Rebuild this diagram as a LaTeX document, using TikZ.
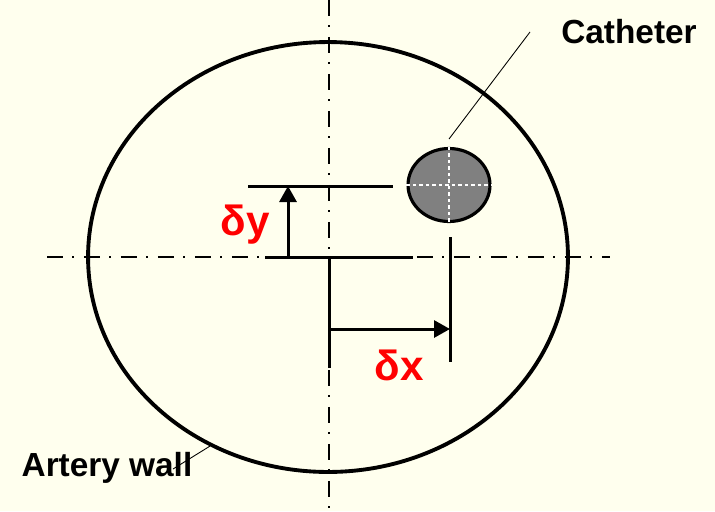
\documentclass[tikz,border=0pt]{standalone}
\usepackage{fontspec}
\setmainfont{Liberation Sans}
\usetikzlibrary{positioning, arrows.meta, shapes.geometric}
\definecolor{mCream}{HTML}{FFFFEE}
\definecolor{mRed}{HTML}{FF0000}
\definecolor{mGray}{HTML}{808080}

\begin{document}
\begin{tikzpicture}[x=0.02cm, y=-0.02cm,
  every node/.style={font=\bfseries},
  axis/.style={line width=1.3pt, dash pattern=on 0.32cm off 0.19cm on 0.04cm off 0.19cm},
  dim/.style={line width=1.7pt},
  dimarrow/.style={line width=1.7pt, -{Triangle[width=0.34cm, length=0.32cm]}},
  cross/.style={white, line width=1.4pt, dash pattern=on 0.07cm off 0.06cm},
  lbl/.style={font=\fontsize{19}{22}\selectfont\bfseries},
  delta/.style={text=mRed, font=\fontsize{24}{28}\selectfont\bfseries},
  leader/.style={line width=0.5pt},
]
  \fill[mCream] (0,0) rectangle (715,511);
  \useasboundingbox (0,0) rectangle (715,511);

  % Centre lines
  \coordinate (vtop) at (329,0);
  \coordinate (vbot) at (329,511);
  \coordinate (hleft) at (47,257);
  \coordinate (hright) at (610,257);
  \coordinate (o) at (329,257);
  \draw[axis] (vtop) -- (vbot);
  \draw[axis] (hleft) -- (hright);

  % Artery wall
  \node[draw, ellipse, line width=2.2pt, minimum width=9.6cm, minimum height=8.6cm,
        inner sep=0pt] (wall) at (328,257) {};

  % Catheter
  \node[draw, ellipse, fill=mGray, line width=1.8pt, minimum width=1.64cm,
        minimum height=1.46cm, inner sep=0pt] (cath) at (449,185) {};
  \draw[cross] (cath.west) -- (cath.east);
  \draw[cross] (cath.north) -- (cath.south);

  % Offset in y
  \coordinate (dyleft) at (248,186);
  \coordinate (dyright) at (393,186);
  \coordinate (dybot) at (288,257);
  \coordinate (dytop) at (288,186);
  \draw[dim] (dyleft) -- (dyright);
  \draw[dimarrow] (dybot) -- (dytop);
  \coordinate (hsolidl) at (265,257);
  \coordinate (hsolidr) at (413,257);
  \draw[dim] (hsolidl) -- (hsolidr);

  % Offset in x
  \coordinate (vsolid) at (329,368);
  \coordinate (dxtop) at (450,237);
  \coordinate (dxbot) at (450,362);
  \coordinate (dxstart) at (329,329);
  \coordinate (dxend) at (450,329);
  \draw[dim] (o) -- (vsolid);
  \draw[dim] (dxtop) -- (dxbot);
  \draw[dimarrow] (dxstart) -- (dxend);

  % Labels
  \node[delta] (dylabel) at (245,225) {δy};
  \node[delta] (dxlabel) at (399,365) {δx};
  \node[lbl] (cathlabel) at (629,32) {Catheter};
  \node[lbl] (walllabel) at (107,468) {Artery wall};

  % Leaders
  \coordinate (cathtip) at (530,32);
  \coordinate (cathend) at (449,139);
  \draw[leader] (cathtip) -- (cathend);
  \coordinate (walltip) at (173,469);
  \draw[leader] (wall.238) -- (walltip);
\end{tikzpicture}
\end{document}
